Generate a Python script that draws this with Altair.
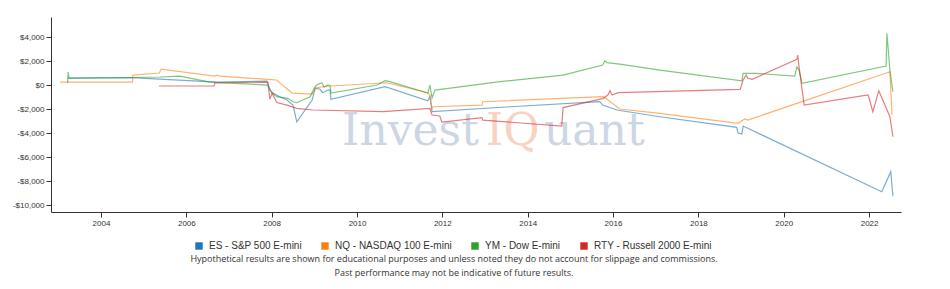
import altair as alt
import pandas as pd

# ---- data (decimal year, cumulative P&L in $) ----
es_t = [2003.23, 2004.75, 2005.38, 2006.72, 2007.89, 2007.91, 2007.96, 2008.03, 2008.19, 2008.36,
        2008.50, 2008.59, 2008.95, 2009.02, 2009.13, 2009.20, 2009.32, 2009.37, 2009.39, 2010.66,
        2011.66, 2011.71, 2011.76, 2013.59, 2015.69, 2015.76, 2016.09, 2017.10, 2018.90, 2018.93,
        2019.02, 2019.05, 2022.30, 2022.51, 2022.56]
es_v = [580, 610, 500, 250, 330, 140, -420, -670, -970, -1250,
        -1670, -3060, -1250, -280, -330, -640, -420, -420, -1190, -140,
        -1310, -970, -2220, -1810, -1390, -1670, -2080, -2640, -3530, -4000,
        -4080, -3420, -8890, -7220, -9250]

nq_t = [2003.04, 2004.74, 2004.75, 2005.37, 2005.41, 2006.67, 2006.72, 2006.79, 2007.89, 2008.12,
        2008.31, 2008.48, 2008.95, 2009.02, 2009.20, 2009.37, 2010.70, 2011.66, 2011.71, 2011.76,
        2011.78, 2012.93, 2012.95, 2015.76, 2015.83, 2016.16, 2017.10, 2018.93, 2019.09, 2019.16,
        2022.49, 2022.54]
nq_v = [250, 250, 830, 1000, 1330, 750, 830, 750, 470, 420,
        -170, -670, -750, -250, -140, -80, 190, -640, -830, -1940,
        -1810, -1670, -1390, -970, -1110, -2000, -2360, -3190, -2830, -2920,
        1110, -2500]

ym_t = [2003.22, 2003.23, 2003.25, 2004.75, 2005.38, 2005.85, 2006.55, 2007.91, 2008.01, 2008.12,
        2008.38, 2008.50, 2008.59, 2008.90, 2009.02, 2009.09, 2009.18, 2009.23, 2009.32, 2009.37,
        2009.39, 2010.47, 2010.66, 2010.77, 2011.66, 2011.71, 2011.76, 2011.83, 2013.35, 2014.83,
        2015.76, 2015.81, 2015.86, 2016.16, 2017.10, 2019.02, 2019.05, 2019.37, 2020.26, 2020.31,
        2020.36, 2020.43, 2022.40, 2022.42, 2022.49, 2022.56]
ym_v = [170, 1080, 580, 630, 670, 750, 250, 0, -670, -970,
        -1110, -1390, -1470, -970, -140, 80, 170, -170, 0, -80,
        -670, 0, 360, 280, -670, 0, -1080, -420, 280, 830,
        1670, 2030, 1860, 1750, 1250, 360, 970, 970, 750, 1530,
        1250, 140, 1580, 4310, 1250, -560]

rty_t = [2005.36, 2006.65, 2006.67, 2007.91, 2007.96, 2008.01, 2008.12, 2008.36, 2008.59, 2008.97,
         2010.61, 2011.71, 2011.76, 2011.94, 2011.99, 2012.93, 2012.95, 2014.80, 2014.83, 2015.76,
         2015.88, 2015.93, 2015.98, 2016.12, 2018.98, 2019.05, 2019.12, 2019.16, 2019.26, 2020.31,
         2020.33, 2020.36, 2020.48, 2021.98, 2022.09, 2022.23, 2022.49, 2022.56]
rty_v = [-80, -80, 170, 250, -1170, -670, -1460, -1670, -1940, -2080,
         -2220, -1940, -2500, -2580, -3080, -2710, -2920, -3420, -1880, -1130,
         -830, -470, -830, -640, -360, 420, 830, 560, 470, 2140,
         2500, 1530, -1670, -830, -2220, -470, -2640, -4310]

series_names = ["ES - S&P 500 E-mini", "NQ - NASDAQ 100 E-mini", "YM - Dow E-mini", "RTY - Russell 2000 E-mini"]
series_colors = ["#1f77b4", "#ff7f0e", "#2ca02c", "#d62728"]
year_ticks = [2004, 2006, 2008, 2010, 2012, 2014, 2016, 2018, 2020, 2022]
value_ticks = [-10000, -8000, -6000, -4000, -2000, 0, 2000, 4000]
footnote_lines = ["Hypothetical results are shown for educational purposes and unless noted they do not account for slippage and commissions.",
                  "Past performance may not be indicative of future results."]
watermark_parts = ["Invest", "IQ", "uant"]
watermark_colors = ["#cdd6e3", "#f7d3c2", "#cdd6e3"]


def to_date(y):
    return pd.Timestamp("2000-01-01") + pd.to_timedelta((y - 2000) * 365.2425, unit="D")


rows = []
for name, ts, vs in zip(series_names, [es_t, nq_t, ym_t, rty_t], [es_v, nq_v, ym_v, rty_v]):
    for i, (t, v) in enumerate(zip(ts, vs)):
        rows.append({"series": name, "date": to_date(t), "value": v, "order": i})
df = pd.DataFrame(rows)

W, H = 850, 195

x_scale = alt.Scale(domain=[to_date(2002.83).isoformat(), to_date(2022.75).isoformat()])
y_scale = alt.Scale(domain=[-10580, 5670], nice=False, zero=False)
color_scale = alt.Scale(domain=series_names, range=series_colors)

lines = alt.Chart(df).mark_line(strokeWidth=1.2, opacity=0.6, interpolate="linear").encode(
    x=alt.X("date:T", scale=x_scale,
            axis=alt.Axis(title=None, values=[pd.Timestamp(f"{y}-01-01").isoformat() for y in year_ticks],
                          format="%Y", labelFontSize=8, tickSize=5, labelPadding=2)),
    y=alt.Y("value:Q", scale=y_scale,
            axis=alt.Axis(title=None, values=value_ticks, tickSize=5, labelFontSize=8, labelPadding=2,
                          labelExpr="datum.value < 0 ? '-$' + format(-datum.value, ',') : '$' + format(datum.value, ',')")),
    color=alt.Color("series:N", scale=color_scale, legend=None),
    order="order:Q",
)

legend_df = pd.DataFrame({"series": series_names})
legend_layer = alt.Chart(legend_df).mark_square(opacity=0, filled=True, size=10).encode(
    x=alt.value(-100), y=alt.value(-100),
    color=alt.Color("series:N", scale=color_scale,
                    legend=alt.Legend(title=None, orient="none", direction="horizontal", columns=4,
                                      legendX=143, legendY=224, symbolType="square", symbolSize=55,
                                      symbolOpacity=1, symbolStrokeWidth=0, labelFontSize=10,
                                      columnPadding=18, labelOffset=5, labelColor="#333",
                                      labelFont="Liberation Sans")),
)

wm_df = pd.DataFrame({"t": watermark_parts, "c": watermark_colors, "px": [291, 435, 493]})
watermark = alt.Chart(wm_df).mark_text(font="DejaVu Serif", fontSize=44, align="left",
                                       baseline="alphabetic").encode(
    x=alt.X("px:Q", scale=None), y=alt.value(128), text="t:N",
    color=alt.Color("c:N", scale=None))

fn_df = pd.DataFrame({"line": footnote_lines, "py": [242, 256]})
footnote = alt.Chart(fn_df).mark_text(font="Open Sans", fontSize=9, color="#333", align="center",
                                      baseline="middle").encode(
    x=alt.value(403), y=alt.Y("py:Q", scale=None), text="line:N")

chart = alt.layer(watermark, lines, legend_layer, footnote).properties(
    width=W, height=H,
    padding={"left": 51, "top": 17, "right": 49, "bottom": 77},
    autosize=alt.AutoSizeParams(type="none"),
).configure_view(stroke=None).configure_axis(
    grid=False, domainColor="#333", tickColor="#333", labelColor="#333", labelFont="Liberation Sans",
).resolve_scale(color="independent")

chart.save("out.html", embed_options={"renderer": "svg", "actions": False})
